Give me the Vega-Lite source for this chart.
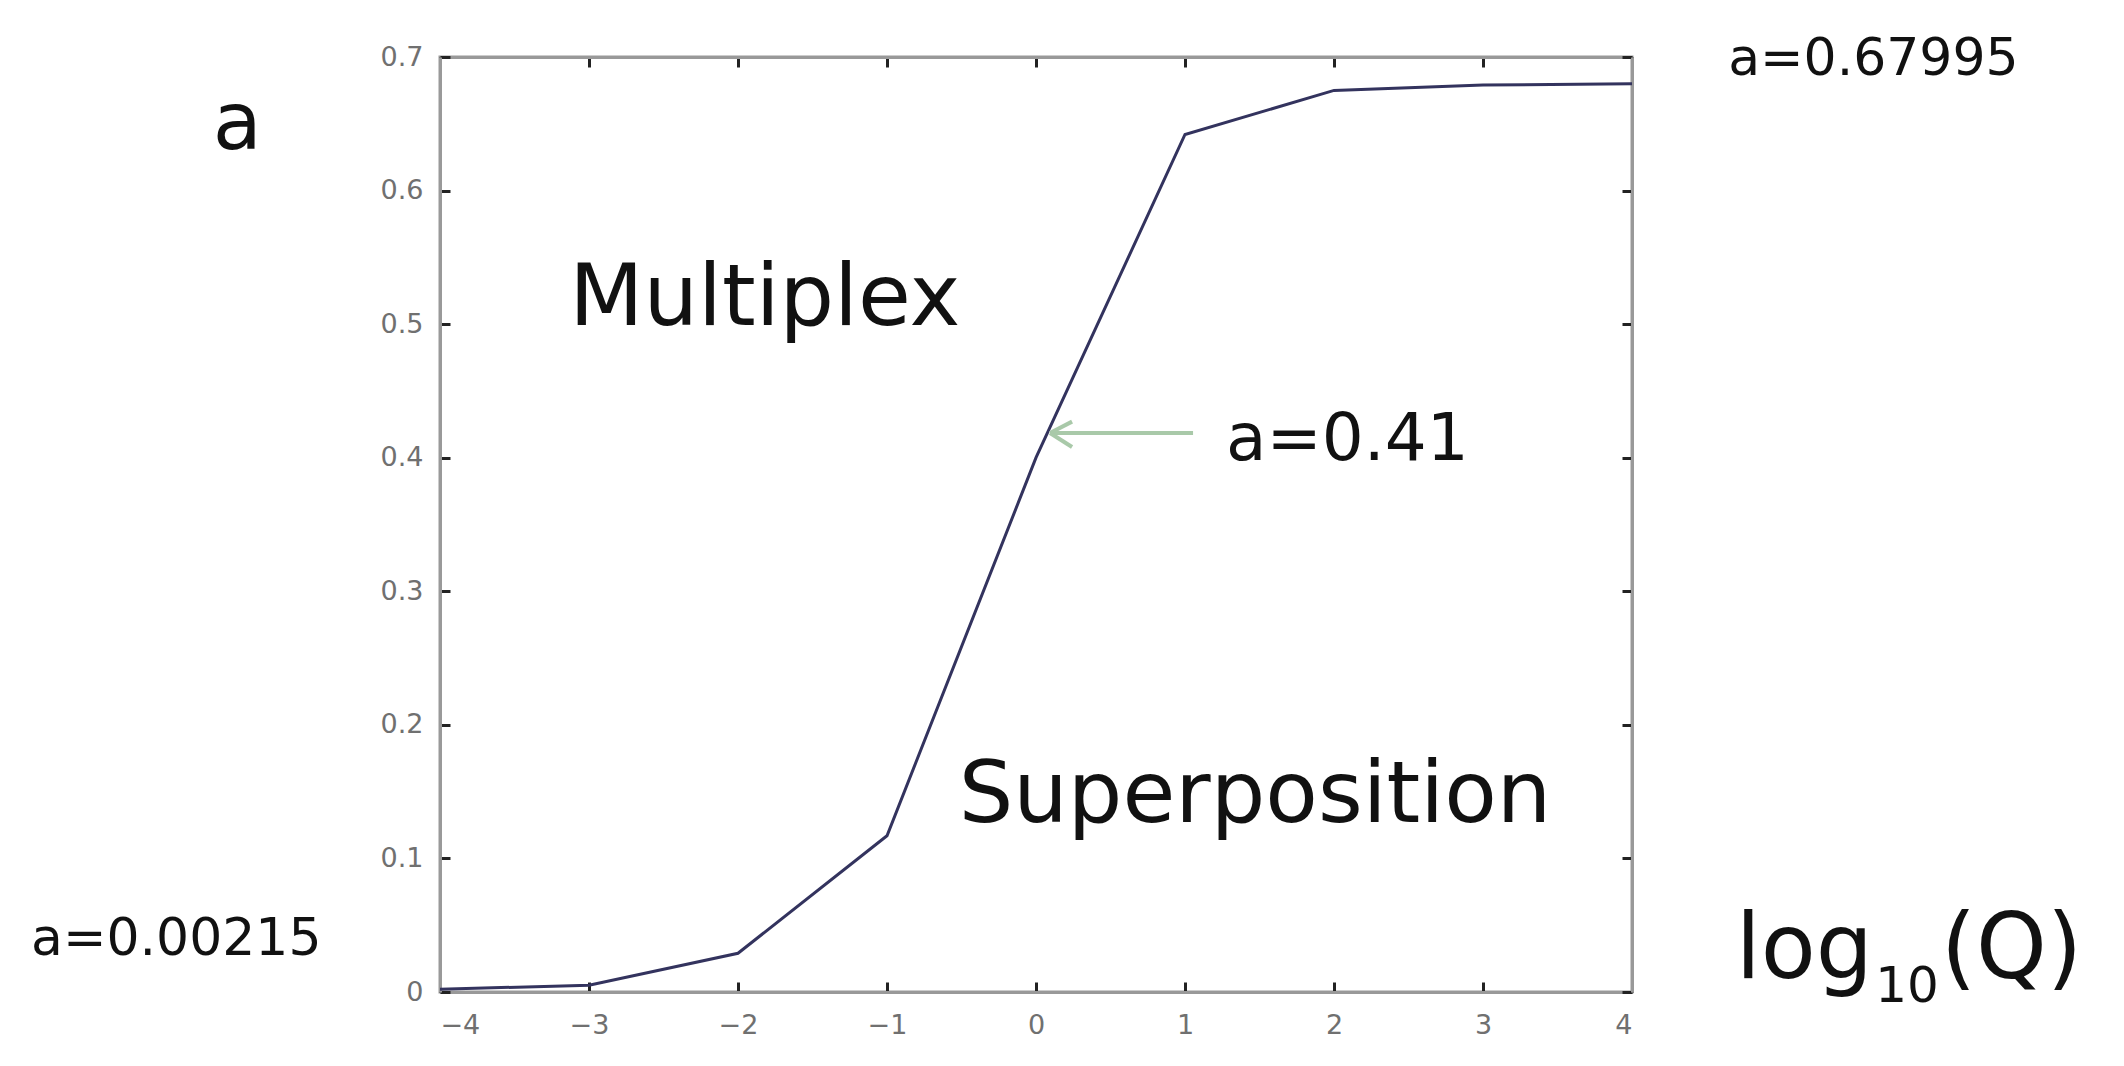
{
  "$schema": "https://vega.github.io/schema/vega-lite/v6.json",
  "width": 1192,
  "height": 935,
  "autosize": {"type": "none"},
  "padding": {"left": 440, "top": 57, "right": 492, "bottom": 74},
  "background": "white",
  "config": {
    "view": {"stroke": "#999999", "strokeWidth": 3},
    "font": "DejaVu Sans",
    "axis": {
      "grid": false,
      "domainColor": "#999999",
      "domainWidth": 3,
      "tickColor": "#222222",
      "tickWidth": 3,
      "tickSize": -10,
      "labelFont": "DejaVu Sans",
      "labelFontSize": 27,
      "labelColor": "#707070",
      "title": null
    }
  },
  "resolve": {"axis": {"x": "independent", "y": "independent"}},
  "layer": [
    {
      "data": {"values": [
        {"q": -4, "a": 0.00215},
        {"q": -3, "a": 0.005},
        {"q": -2, "a": 0.029},
        {"q": -1, "a": 0.117},
        {"q": 0, "a": 0.40},
        {"q": 1, "a": 0.642},
        {"q": 2, "a": 0.675},
        {"q": 3, "a": 0.679},
        {"q": 4, "a": 0.67995}
      ]},
      "mark": {"type": "line", "color": "#33335e", "strokeWidth": 3},
      "encoding": {
        "x": {"field": "q", "type": "quantitative", "scale": {"domain": [-4, 4], "nice": false, "zero": false},
              "axis": {"orient": "bottom", "values": [-4, -3, -2, -1, 0, 1, 2, 3, 4], "format": "d", "labelPadding": 30}},
        "y": {"field": "a", "type": "quantitative", "scale": {"domain": [0, 0.7], "nice": false},
              "axis": {"orient": "left", "values": [0, 0.1, 0.2, 0.3, 0.4, 0.5, 0.6, 0.7], "format": "~g", "labelPadding": 27}}
      }
    },
    {
      "data": {"values": [{"q": -4, "a": 0}]},
      "mark": {"type": "point", "opacity": 0},
      "encoding": {
        "x": {"field": "q", "type": "quantitative", "scale": {"domain": [-4, 4], "nice": false, "zero": false},
              "axis": {"orient": "top", "values": [-4, -3, -2, -1, 0, 1, 2, 3, 4], "labels": false}},
        "y": {"field": "a", "type": "quantitative", "scale": {"domain": [0, 0.7], "nice": false},
              "axis": {"orient": "right", "values": [0, 0.1, 0.2, 0.3, 0.4, 0.5, 0.6, 0.7], "labels": false}}
      }
    },
    {
      "data": {"values": [
        {"q": 1.054, "a": 0.4185, "q2": 0.094, "a2": 0.4185},
        {"q": 0.094, "a": 0.4185, "q2": 0.242, "a2": 0.427},
        {"q": 0.094, "a": 0.4185, "q2": 0.242, "a2": 0.408}
      ]},
      "mark": {"type": "rule", "color": "#a9c9a9", "strokeWidth": 4},
      "encoding": {
        "x": {"field": "q", "type": "quantitative", "axis": null},
        "y": {"field": "a", "type": "quantitative", "axis": null},
        "x2": {"field": "q2"},
        "y2": {"field": "a2"}
      }
    },
    {
      "data": {"values": [
        {"q": -1.82, "a": 0.499, "label": "Multiplex"},
        {"q": 1.47, "a": 0.127, "label": "Superposition"}
      ]},
      "mark": {"type": "text", "fontSize": 86, "align": "center", "baseline": "alphabetic", "color": "#111111"},
      "encoding": {
        "x": {"field": "q", "type": "quantitative", "axis": null},
        "y": {"field": "a", "type": "quantitative", "axis": null},
        "text": {"field": "label"}
      }
    },
    {
      "data": {"values": [{"q": 2.09, "a": 0.398, "label": "a=0.41"}]},
      "mark": {"type": "text", "fontSize": 66, "align": "center", "baseline": "alphabetic", "color": "#111111"},
      "encoding": {
        "x": {"field": "q", "type": "quantitative", "axis": null},
        "y": {"field": "a", "type": "quantitative", "axis": null},
        "text": {"field": "label"}
      }
    },
    {
      "data": {"values": [
        {"q": 5.62, "a": 0.6865, "label": "a=0.67995"},
        {"q": -5.77, "a": 0.0277, "label": "a=0.00215"}
      ]},
      "mark": {"type": "text", "fontSize": 52, "align": "center", "baseline": "alphabetic", "color": "#111111"},
      "encoding": {
        "x": {"field": "q", "type": "quantitative", "axis": null},
        "y": {"field": "a", "type": "quantitative", "axis": null},
        "text": {"field": "label"}
      }
    },
    {
      "data": {"values": [{"q": 5.832, "a": 0.0105, "label": "log"}]},
      "mark": {"type": "text", "fontSize": 90, "align": "right", "baseline": "alphabetic", "dx": -32, "color": "#111111"},
      "encoding": {
        "x": {"field": "q", "type": "quantitative", "axis": null},
        "y": {"field": "a", "type": "quantitative", "axis": null},
        "text": {"field": "label"}
      }
    },
    {
      "data": {"values": [{"q": 5.832, "a": 0.0105, "label": "10"}]},
      "mark": {"type": "text", "fontSize": 50, "align": "center", "baseline": "alphabetic", "dx": 2, "dy": 24, "color": "#111111"},
      "encoding": {
        "x": {"field": "q", "type": "quantitative", "axis": null},
        "y": {"field": "a", "type": "quantitative", "axis": null},
        "text": {"field": "label"}
      }
    },
    {
      "data": {"values": [{"q": 5.832, "a": 0.0105, "label": "(Q)"}]},
      "mark": {"type": "text", "fontSize": 90, "align": "left", "baseline": "alphabetic", "dx": 36, "color": "#111111"},
      "encoding": {
        "x": {"field": "q", "type": "quantitative", "axis": null},
        "y": {"field": "a", "type": "quantitative", "axis": null},
        "text": {"field": "label"}
      }
    },
    {
      "data": {"values": [{"q": -5.36, "a": 0.631, "label": "a"}]},
      "mark": {"type": "text", "fontSize": 80, "align": "center", "baseline": "alphabetic", "color": "#111111"},
      "encoding": {
        "x": {"field": "q", "type": "quantitative", "axis": null},
        "y": {"field": "a", "type": "quantitative", "axis": null},
        "text": {"field": "label"}
      }
    }
  ]
}
